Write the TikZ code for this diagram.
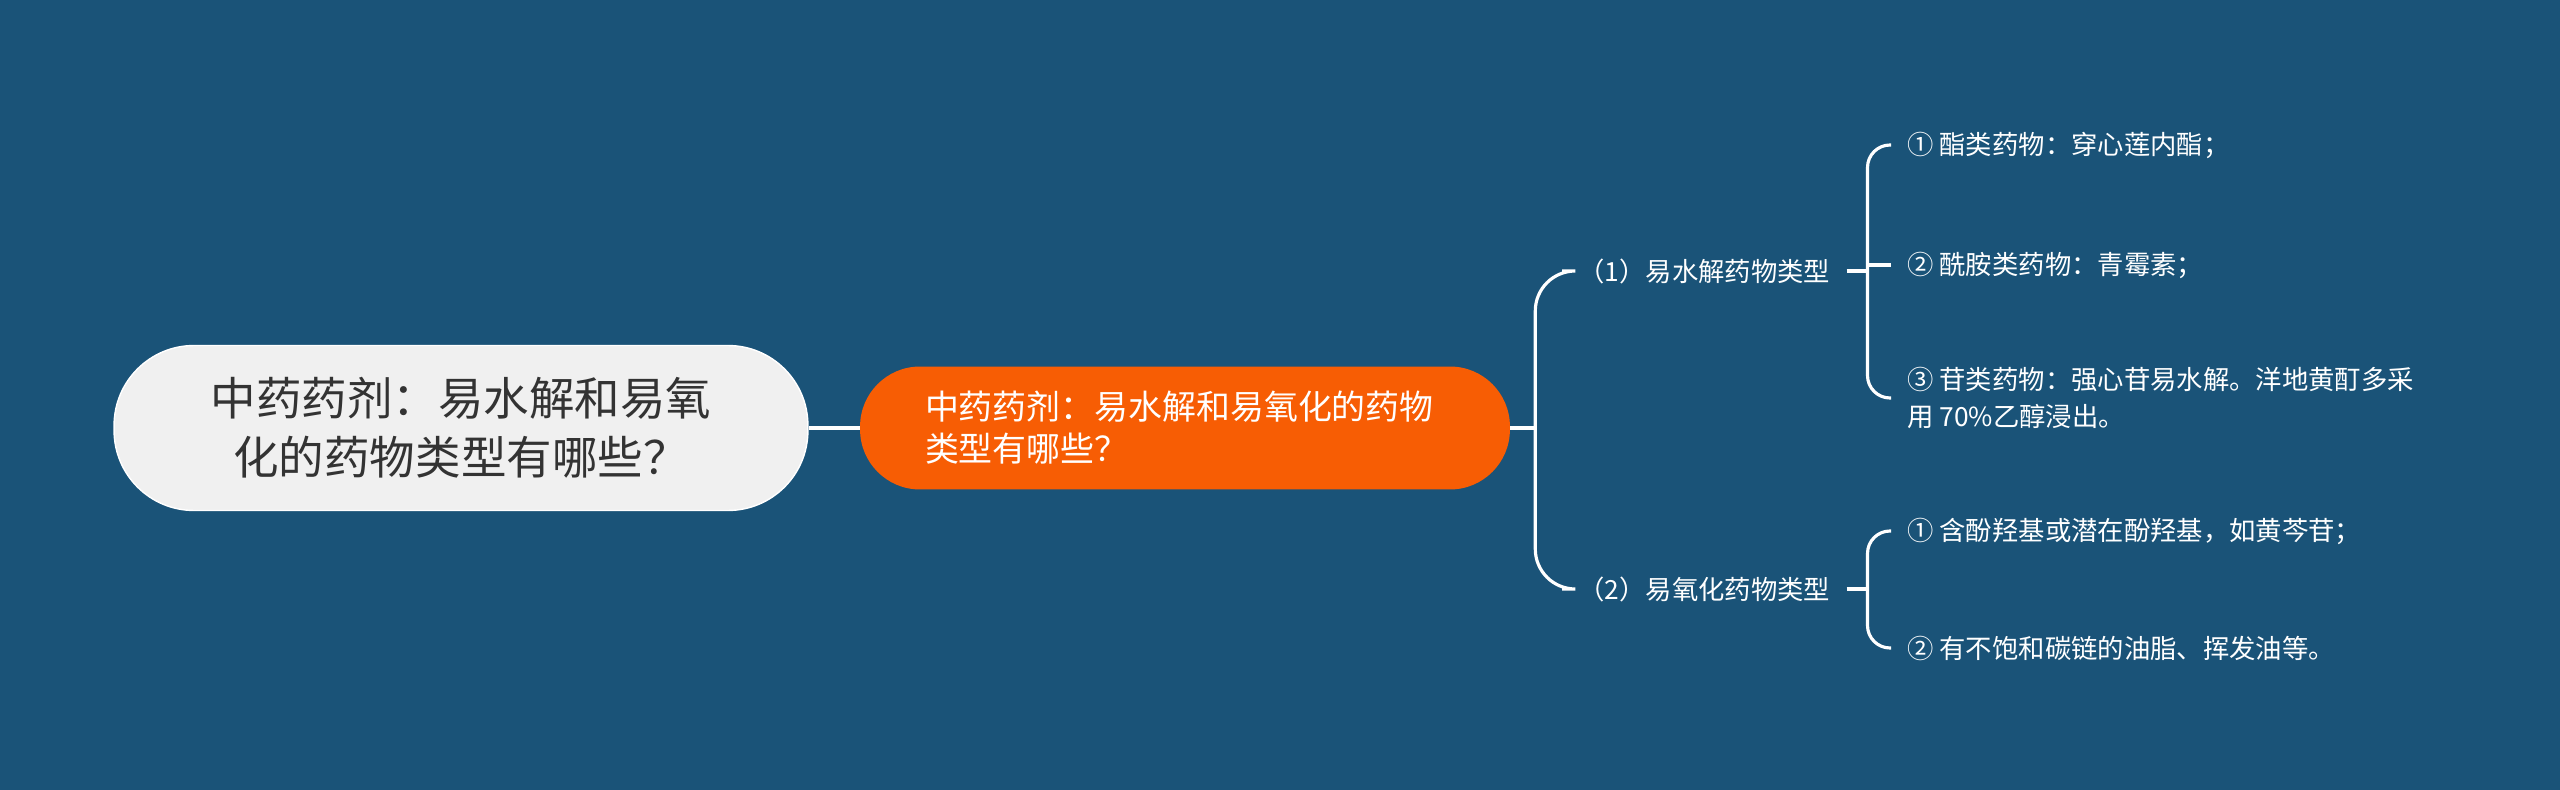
\documentclass[tikz,border=0pt]{standalone}
\usepackage{fontspec}
\setmainfont{Noto Sans CJK SC}
\definecolor{bg}{HTML}{1A5378}
\definecolor{rootfill}{HTML}{F0F0F0}
\definecolor{rootink}{HTML}{333333}
\definecolor{topicfill}{HTML}{F75D04}

\tikzset{
  rootnode/.style={rounded corners=1.6cm, fill=rootfill, draw=white, line width=0.8pt,
    text=rootink, minimum width=13.88cm, minimum height=3.3cm, align=center,
    font=\fontsize{25.9}{33.6}\selectfont},
  topic/.style={rounded corners=1.2cm, fill=topicfill, text=white, text width=10.4cm,
    inner xsep=1.3cm, minimum height=2.46cm, align=left,
    font=\fontsize{19.3}{23.9}\selectfont},
  sub/.style={text=white, anchor=west, inner xsep=0.32cm, inner ysep=3pt, align=left,
    font=\fontsize{15}{21}\selectfont},
  link/.style={draw=white, line width=1.8pt, rounded corners=0.45cm}
}

\begin{document}
\begin{tikzpicture}[x=0.02cm, y=-0.02cm]
  \fill[bg] (0,0) rectangle (2560,790);

  \node[rootnode] (root) at (461,428) {中药药剂：易水解和易氧\\化的药物类型有哪些？};
  \node[topic] (mid) at (1185,428) {中药药剂：易水解和易氧化的药物\\类型有哪些？};

  \node[sub] (t1) at (1562,271) {（1）易水解药物类型};
  \node[sub] (t2) at (1562,589) {（2）易氧化药物类型};

  \node[sub] (a1) at (1891,145) {① 酯类药物：穿心莲内酯；};
  \node[sub] (a2) at (1891,265) {② 酰胺类药物：青霉素；};
  \node[sub] (a3) at (1891,398) {③ 苷类药物：强心苷易水解。洋地黄酊多采\\用 70\%乙醇浸出。};
  \node[sub] (b1) at (1891,531) {① 含酚羟基或潜在酚羟基，如黄芩苷；};
  \node[sub] (b2) at (1891,648) {② 有不饱和碳链的油脂、挥发油等。};

  \coordinate (j0) at ([xshift=0.5cm]mid.east);
  \coordinate (j1) at ([xshift=0.42cm]t1.east);
  \coordinate (j2) at ([xshift=0.42cm]t2.east);

  \draw[link] (root.east) -- (mid.west);
  \draw[link] (mid.east) -- (j0);
  \draw[link, rounded corners=0.8cm] (t1.west) -| (j0) |- (t2.west);

  \draw[link] (t1.east) -- (j1);
  \draw[link] (a1.west) -| (j1) |- (a3.west);
  \draw[link] (a2.west) -- (a2.west -| j1);

  \draw[link] (t2.east) -- (j2);
  \draw[link] (b1.west) -| (j2) |- (b2.west);
\end{tikzpicture}
\end{document}
